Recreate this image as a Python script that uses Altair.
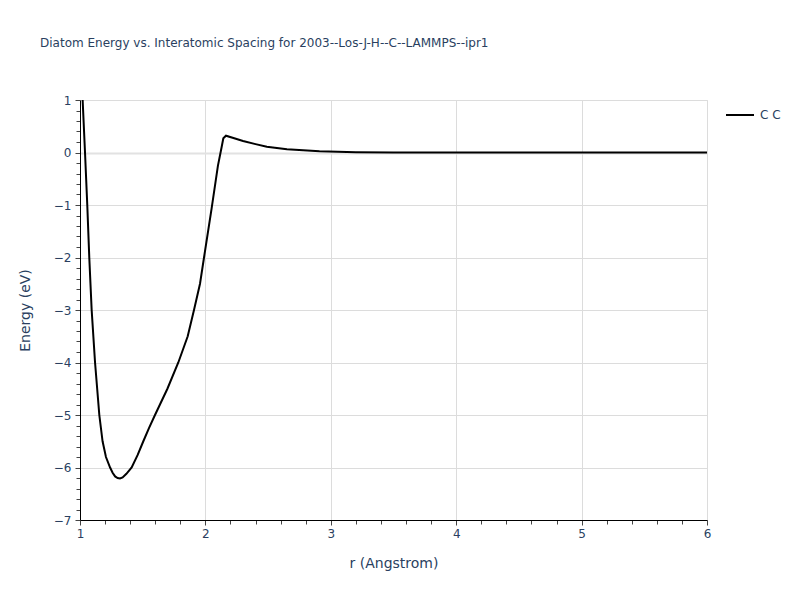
import altair as alt
import numpy as np
import pandas as pd

# Diatom energy curve
r_vals = [1.00, 1.021, 1.04, 1.058, 1.074, 1.093, 1.12, 1.154, 1.18, 1.207, 1.24,
          1.26, 1.28, 1.30, 1.319, 1.34, 1.37, 1.412, 1.46, 1.505, 1.55, 1.598,
          1.697, 1.784, 1.859, 1.909, 1.957, 1.989, 2.05, 2.10, 2.13, 2.143,
          2.164, 2.23, 2.30, 2.40, 2.49, 2.65, 2.91, 3.2, 3.5, 4.0, 5.0, 6.0]
e_vals = [2.1, 1.0, 0.0, -1.0, -2.0, -3.0, -4.0, -5.0, -5.5, -5.8, -6.0,
          -6.1, -6.17, -6.2, -6.21, -6.19, -6.12, -6.0, -5.76, -5.5, -5.25, -5.0,
          -4.5, -4.0, -3.5, -3.0, -2.5, -2.0, -1.06, -0.25, 0.11, 0.27,
          0.32, 0.27, 0.22, 0.16, 0.11, 0.06, 0.025, 0.005, 0.0, 0.0, 0.0, 0.0]
series = ["C C"] * len(r_vals)

x_ticks = [round(v, 1) for v in np.arange(1.0, 6.0001, 0.2)]
y_ticks = [round(v, 1) for v in np.arange(-7.0, 1.0001, 0.2)]

df = pd.DataFrame({"r": r_vals, "E": e_vals, "pair": series})

FONT = "DejaVu Sans"
TXT = "#2a3f5f"
is_int = "abs(datum.value - round(datum.value)) < 1e-6"
label_expr = f"{is_int} ? format(datum.value, 'd') : ''"

x_axis = alt.Axis(
    values=x_ticks, labelExpr=label_expr, title="r (Angstrom)",
    domainColor="#000000", domainWidth=1,
    tickColor="#444444", tickWidth=1,
    tickSize=alt.condition(is_int, alt.value(5), alt.value(4)),
    gridColor="#dcdcdc",
    gridOpacity=alt.condition(is_int, alt.value(1), alt.value(0)),
    labelFont=FONT, labelFontSize=12, labelColor=TXT, labelPadding=3,
    titleFont=FONT, titleFontSize=14, titleColor=TXT, titleFontWeight="normal",
    titlePadding=17, labelFlush=False,
)
y_axis = alt.Axis(
    values=y_ticks, labelExpr=label_expr, title="Energy (eV)",
    domainColor="#000000", domainWidth=1,
    tickColor="#444444", tickWidth=1,
    tickSize=alt.condition(is_int, alt.value(5), alt.value(4)),
    gridColor=alt.condition("abs(datum.value) < 1e-6", alt.value("#e2e2e2"), alt.value("#dcdcdc")),
    gridWidth=alt.condition("abs(datum.value) < 1e-6", alt.value(2), alt.value(1)),
    gridOpacity=alt.condition(is_int, alt.value(1), alt.value(0)),
    labelFont=FONT, labelFontSize=12, labelColor=TXT, labelPadding=4,
    titleFont=FONT, titleFontSize=14, titleColor=TXT, titleFontWeight="normal",
    titlePadding=21, labelFlush=False,
)

chart = alt.Chart(df).mark_line(color="black", strokeWidth=2, clip=True).encode(
    x=alt.X("r:Q", scale=alt.Scale(domain=[1, 6], nice=False, zero=False), axis=x_axis),
    y=alt.Y("E:Q", scale=alt.Scale(domain=[-7, 1], nice=False, zero=False), axis=y_axis),
    color=alt.Color("pair:N", scale=alt.Scale(range=["black"]),
                    legend=alt.Legend(title=None, orient="none", legendX=645, legendY=0,
                                      symbolType="stroke", symbolSize=784,
                                      symbolStrokeWidth=2, labelFont=FONT,
                                      labelFontSize=12, labelColor=TXT, labelOffset=5)),
    order="r:Q",
).properties(
    width=627, height=420,
    title=alt.Title("Diatom Energy vs. Interatomic Spacing for 2003--Los-J-H--C--LAMMPS--ipr1",
                    anchor="start", frame="group", dx=-40, offset=44,
                    font=FONT, fontSize=12, fontWeight="normal", color=TXT),
    autosize=alt.AutoSizeParams(type="none"),
    padding={"left": 72, "top": 92, "right": 80, "bottom": 70},
).configure_view(stroke=None).configure(background="white")

chart.save("out.html", embed_options={"renderer": "svg", "actions": False})
